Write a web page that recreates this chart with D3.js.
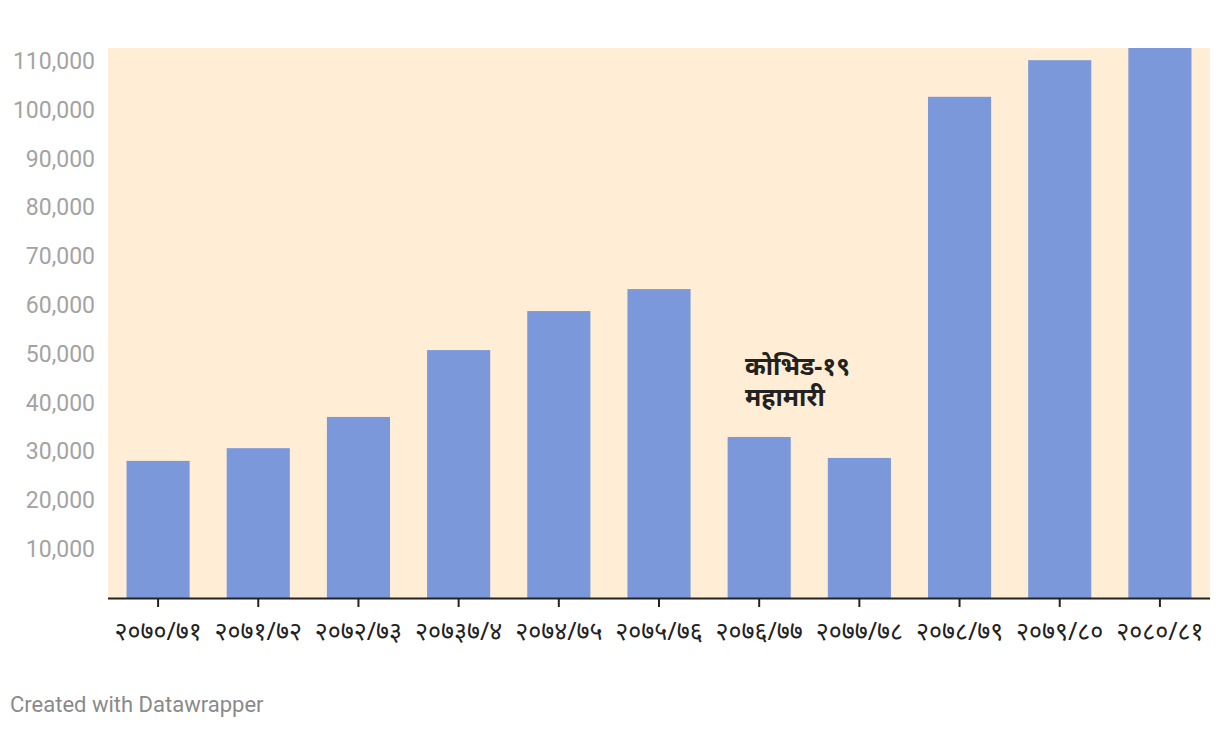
<!DOCTYPE html>
<html>
<head>
<meta charset="utf-8">
<script src="https://cdn.jsdelivr.net/npm/d3@7"></script>
<style>
  html, body { margin: 0; padding: 0; background: #ffffff; }
  svg { display: block; }
</style>
</head>
<body>
<svg id="chart" width="1220" height="730"></svg>
<script>
const categories = ["२०७०/७१", "२०७१/७२", "२०७२/७३", "२०७३७/४", "२०७४/७५", "२०७५/७६", "२०७६/७७", "२०७७/७८", "२०७८/७९", "२०७९/८०", "२०८०/८१"];
const values = [28100, 30700, 37100, 50800, 58800, 63300, 33000, 28700, 102700, 110200, 112700];
const yTicks = [10000, 20000, 30000, 40000, 50000, 60000, 70000, 80000, 90000, 100000, 110000];
const annotationLines = ["कोभिड-१९", "महामारी"];
const creditText = "Created with Datawrapper";

(function () {
const svg = d3.select("#chart");
const pL = 108, pR = 1210, pT = 48, pB = 598;

const x = d3.scaleBand().domain(categories).range([pL, pR]).paddingInner(0.37).paddingOuter(0.185);
const y = d3.scaleLinear().domain([0, d3.max(values)]).range([pB, pT]);

svg.append("rect").attr("x", pL).attr("y", pT).attr("width", pR - pL).attr("height", pB - pT).attr("fill", "#ffeed5");

svg.selectAll("rect.bar").data(values).join("rect").attr("class", "bar")
  .attr("x", (d, i) => x(categories[i]))
  .attr("width", x.bandwidth())
  .attr("y", d => y(d))
  .attr("height", d => y(0) - y(d))
  .attr("fill", "#7b98db");

const yAxis = d3.axisLeft(y).tickValues(yTicks).tickSize(0).tickPadding(13).tickFormat(d3.format(","));
const yg = svg.append("g").attr("transform", `translate(${pL},0)`).call(yAxis);
yg.select(".domain").remove();
yg.selectAll("text").attr("fill", "#a3a3a3").attr("font-family", "Roboto, sans-serif").attr("font-size", 23);

const xAxis = d3.axisBottom(x).tickSize(9).tickPadding(15);
const xg = svg.append("g").attr("transform", `translate(0,${pB})`).call(xAxis);
xg.select(".domain").attr("d", `M${pL},0.5H${pR}`).attr("stroke", "#222").attr("stroke-width", 2);
xg.selectAll(".tick line").attr("stroke", "#222").attr("stroke-width", 2);
xg.selectAll("text").attr("fill", "#222").attr("font-family", "'Noto Sans', sans-serif").attr("font-size", 25);

const ann = svg.append("text").attr("x", 745).attr("y", 375)
  .attr("font-family", "'Noto Sans', sans-serif").attr("font-weight", "bold").attr("font-size", 25).attr("fill", "#222");
annotationLines.forEach((t, i) => ann.append("tspan").attr("x", 745).attr("dy", i === 0 ? 0 : 31).text(t));

svg.append("text").attr("x", 10).attr("y", 712).attr("fill", "#8a8a8a")
  .attr("font-family", "Roboto, sans-serif").attr("font-size", 22).text(creditText);
})();
</script>
</body>
</html>
